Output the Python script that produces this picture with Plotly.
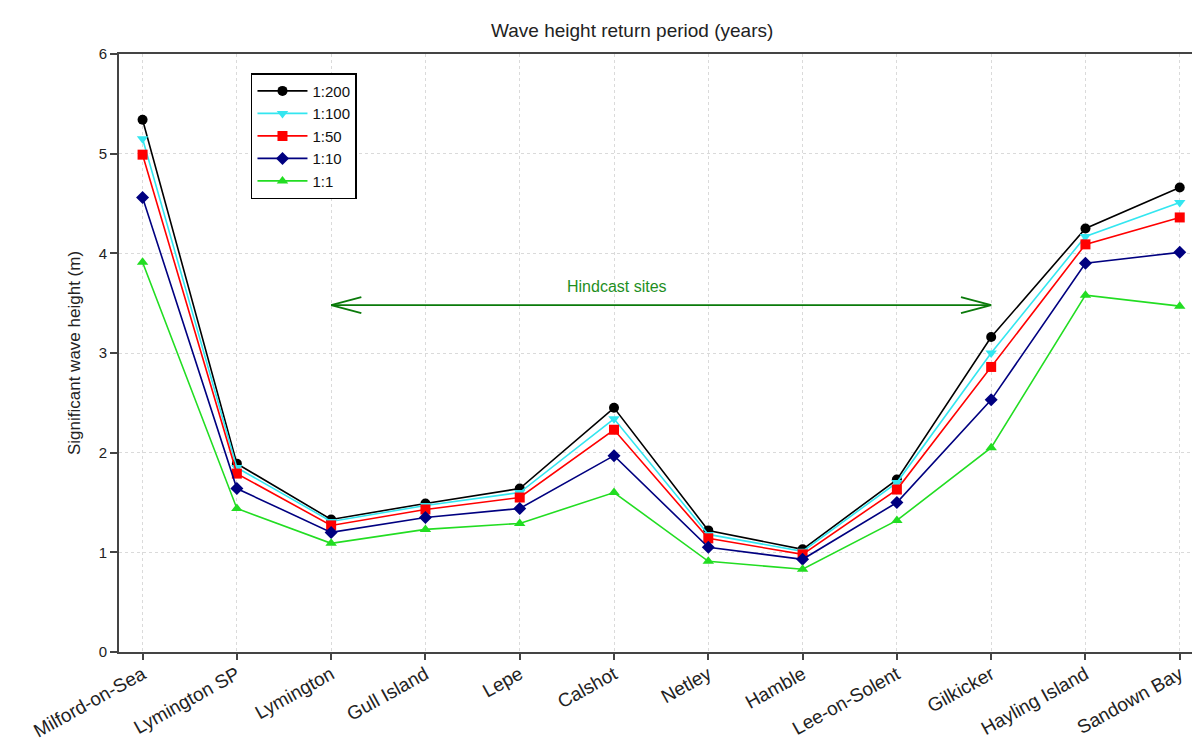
import plotly.graph_objects as go

sites = ["Milford-on-Sea", "Lymington SP", "Lymington", "Gull Island", "Lepe", "Calshot",
         "Netley", "Hamble", "Lee-on-Solent", "Gilkicker", "Hayling Island", "Sandown Bay"]
rp_200 = [5.34, 1.89, 1.33, 1.49, 1.64, 2.45, 1.22, 1.03, 1.73, 3.16, 4.25, 4.66]
rp_100 = [5.15, 1.85, 1.31, 1.47, 1.60, 2.34, 1.18, 1.01, 1.70, 3.00, 4.17, 4.51]
rp_50 = [4.99, 1.79, 1.27, 1.43, 1.55, 2.23, 1.14, 0.98, 1.63, 2.86, 4.09, 4.36]
rp_10 = [4.56, 1.64, 1.20, 1.35, 1.44, 1.97, 1.05, 0.93, 1.50, 2.53, 3.90, 4.01]
rp_1 = [3.91, 1.44, 1.09, 1.23, 1.29, 1.60, 0.91, 0.83, 1.32, 2.05, 3.58, 3.47]

series = [
    ("1:200", rp_200, "#000000", "circle"),
    ("1:100", rp_100, "#33e6f0", "triangle-down"),
    ("1:50", rp_50, "#ff0000", "square"),
    ("1:10", rp_10, "#000080", "diamond"),
    ("1:1", rp_1, "#22dd22", "triangle-up"),
]

hindcast_start = "Lymington"
hindcast_end = "Gilkicker"
hindcast_level = 3.48

x_idx = list(range(len(sites)))
fig = go.Figure()
for name, vals, col, sym in series:
    fig.add_trace(go.Scatter(
        x=x_idx, y=vals, name=name, mode="lines+markers",
        line=dict(color=col, width=1.6),
        marker=dict(color=col, symbol=sym, size=10),
    ))

i0 = sites.index(hindcast_start)
i1 = sites.index(hindcast_end)
acol = "#0a7a0a"
shapes = [
    dict(type="line", xref="x", yref="y", x0=i0, x1=i1, y0=hindcast_level, y1=hindcast_level,
         line=dict(color=acol, width=1.8)),
    dict(type="line", xref="x", yref="y", x0=i0, x1=i0 + 0.32, y0=hindcast_level, y1=hindcast_level + 0.08,
         line=dict(color=acol, width=1.8)),
    dict(type="line", xref="x", yref="y", x0=i0, x1=i0 + 0.32, y0=hindcast_level, y1=hindcast_level - 0.08,
         line=dict(color=acol, width=1.8)),
    dict(type="line", xref="x", yref="y", x0=i1, x1=i1 - 0.32, y0=hindcast_level, y1=hindcast_level + 0.08,
         line=dict(color=acol, width=1.8)),
    dict(type="line", xref="x", yref="y", x0=i1, x1=i1 - 0.32, y0=hindcast_level, y1=hindcast_level - 0.08,
         line=dict(color=acol, width=1.8)),
]

fig.update_layout(
    width=1192, height=751,
    margin=dict(l=119, r=0, t=54, b=99),
    paper_bgcolor="white", plot_bgcolor="white",
    font=dict(family="Liberation Sans, Arial, sans-serif", color="#222222"),
    shapes=shapes,
    showlegend=True,
    legend=dict(x=0.123, y=0.968, xanchor="left", yanchor="top",
                bgcolor="white", bordercolor="black", borderwidth=1.5,
                font=dict(size=15, color="#111111"), tracegroupgap=0,
                itemwidth=50),
    annotations=[
        dict(text="Wave height return period (years)", xref="paper", yref="paper",
             x=0.478, y=1.0, yshift=36, showarrow=False, font=dict(size=19, color="#222222")),
        dict(text="Hindcast sites", xref="x", yref="y", x=(i0 + i1) / 2 - 0.47, y=hindcast_level + 0.19,
             showarrow=False, font=dict(size=16, color="#1f8f1f")),
    ],
)
fig.update_xaxes(
    range=[-0.25, 11.13], tickmode="array", tickvals=x_idx, ticktext=sites,
    tickangle=-29, tickfont=dict(size=19, color="#222222"), automargin=False,
    ticklabelstandoff=-4,
    showline=True, linecolor="#444444", linewidth=2, mirror=True,
    ticks="outside", ticklen=6, tickcolor="#444444", tickwidth=2,
    showgrid=True, gridcolor="#dadada", griddash="dot", gridwidth=1, zeroline=False,
)
fig.update_yaxes(
    range=[0, 6], dtick=1, tickfont=dict(size=15, color="#222222"), automargin=False,
    title=dict(text="Significant wave height (m)", font=dict(size=17, color="#222222"), standoff=14),
    showline=True, linecolor="#444444", linewidth=2, mirror=False,
    ticks="outside", ticklen=7, tickcolor="#444444", tickwidth=2,
    showgrid=True, gridcolor="#dadada", griddash="dot", gridwidth=1, zeroline=False,
)
fig.write_html("out.html")
